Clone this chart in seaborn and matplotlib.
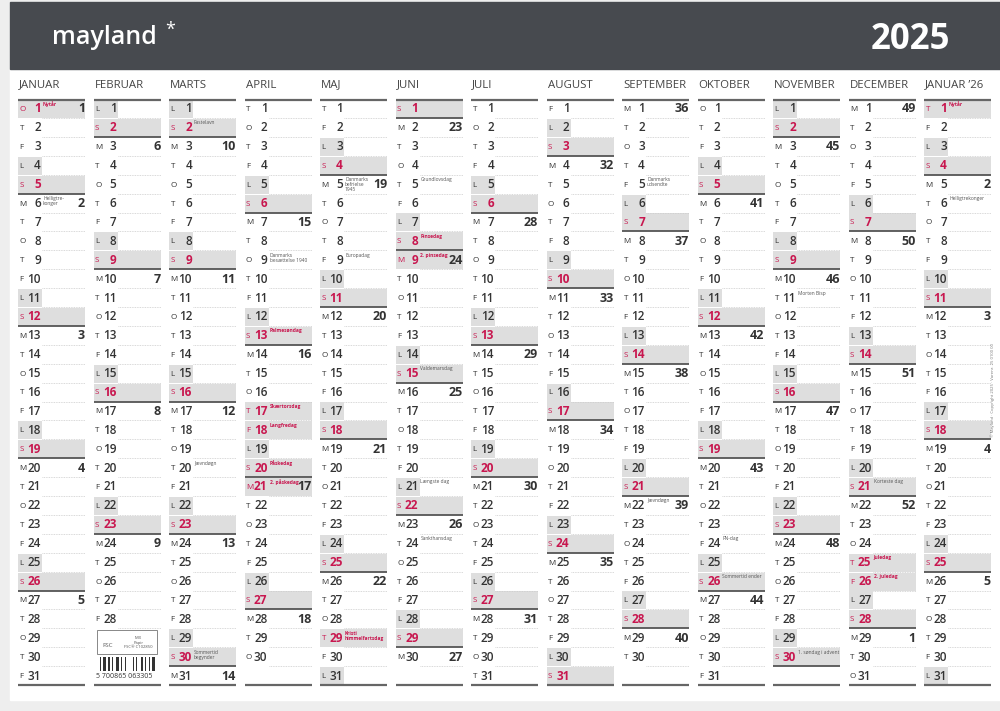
import datetime as dt
import matplotlib
matplotlib.use("Agg")
import matplotlib.pyplot as plt
import seaborn as sns
from matplotlib.patches import Rectangle

sns.set_style("white")
plt.rcParams['font.family'] = ['Open Sans', 'DejaVu Sans']

months = ["JANUAR", "FEBRUAR", "MARTS", "APRIL", "MAJ", "JUNI", "JULI", "AUGUST",
          "SEPTEMBER", "OKTOBER", "NOVEMBER", "DECEMBER", "JANUAR \u201926"]
month_year = [(2025, m) for m in range(1, 13)] + [(2026, 1)]
weekday_letters = ["M", "T", "O", "T", "F", "L", "S"]

# (month index, day, label, red holiday)
holidays = [
    (0, 1, "Nytår", True), (0, 6, "Helligtre-\nkonger", False),
    (2, 2, "Fastelavn", False), (2, 20, "Jævndøgn", False), (2, 30, "Sommertid\nbegynder", False),
    (3, 9, "Danmarks\nbesættelse 1940", False), (3, 13, "Palmesøndag", True),
    (3, 17, "Skærtorsdag", True), (3, 18, "Langfredag", True), (3, 20, "Påskedag", True),
    (3, 21, "2. påskedag", True),
    (4, 5, "Danmarks\nbefrielse\n1945", False), (4, 9, "Europadag", False),
    (4, 29, "Kristi\nhimmelfartsdag", True),
    (5, 5, "Grundlovsdag", False), (5, 8, "Pinsedag", True), (5, 9, "2. pinsedag", True),
    (5, 15, "Valdemarsdag", False), (5, 21, "Længste dag", False), (5, 24, "Sankthansdag", False),
    (8, 5, "Danmarks\nudsendte", False), (8, 22, "Jævndøgn", False),
    (9, 24, "FN-dag", False), (9, 26, "Sommertid ender", False),
    (10, 11, "Morten Bisp", False), (10, 30, "1. søndag i advent", False),
    (11, 21, "Korteste dag", False), (11, 25, "Juledag", True), (11, 26, "2. juledag", True),
    (12, 1, "Nytår", True), (12, 6, "Helligtrekonger", False),
]
hol = {(m, d): (t, r) for m, d, t, r in holidays}

RED = "#c8174f"
SHADE = "#dedede"
TXT = "#333333"

fig = plt.figure(figsize=(10, 7.11), dpi=100)
fig.patch.set_facecolor("#eeeeee")
ax = fig.add_axes([0, 0, 1, 1])
ax.set_xlim(0, 1000)
ax.set_ylim(711, 0)
ax.axis("off")

ax.add_patch(Rectangle((10, 2), 990, 698, color="white", zorder=0))
ax.add_patch(Rectangle((10, 2), 990, 67, color="#474a4f", zorder=1))
ax.text(52, 38, "mayland", color="white", fontsize=18, va="center", ha="left", fontweight="semibold")
ax.text(165, 30, "*", color="white", fontsize=13, va="center", ha="left")
ax.text(950, 40, "2025", color="white", fontsize=25, fontweight="bold", va="center", ha="right")

x0, dx, colw = 18, 75.5, 67
y1, dy = 109, 18.9

for mi, name in enumerate(months):
    x = x0 + mi * dx
    ax.text(x + 1, 85, name, fontsize=8.2, color="#444444", va="center", ha="left")
    ax.plot([x, x + colw], [99.5, 99.5], color="#666666", lw=1.6, solid_capstyle="butt")
    yr, mo = month_year[mi]
    for d in range(1, 32):
        try:
            date = dt.date(yr, mo, d)
        except ValueError:
            continue
        yc = y1 + (d - 1) * dy
        wd = date.weekday()
        h = hol.get((mi, d))
        red = wd == 6 or (h is not None and h[1])
        if red:
            ax.add_patch(Rectangle((x, yc - 9), colw, 18, color=SHADE, lw=0, zorder=1))
        elif wd == 5:
            ax.add_patch(Rectangle((x, yc - 9), 24, 18, color=SHADE, lw=0, zorder=1))
        c = RED if red else TXT
        ax.text(x + 1.5, yc + 0.5, weekday_letters[wd], fontsize=5.8, color=c, va="center", ha="left", zorder=3)
        ax.text(x + 23, yc, str(d), fontsize=8.5, color=c, va="center", ha="right",
                fontweight="bold" if red else "semibold", zorder=3)
        if wd == 0 or (yr == 2025 and mo == 1 and d == 1):
            ax.text(x + colw, yc, str(date.isocalendar()[1]), fontsize=9, fontweight="bold",
                    color=TXT, va="center", ha="right", zorder=3)
        if h is not None:
            ax.text(x + 25, yc - 7.5, h[0], fontsize=3.5, color=RED if h[1] else "#555555",
                    va="top", ha="left", fontweight="bold" if h[1] else "normal", linespacing=1.0, zorder=3)
        if wd == 6:
            ax.plot([x, x + colw], [yc + 9, yc + 9], color="#555555", lw=1.3, solid_capstyle="butt", zorder=2)
        else:
            ax.plot([x + 24, x + colw], [yc + 9, yc + 9], color="#cccccc", lw=0.6, ls=(0, (1, 1)), zorder=2)
    ybot = y1 + 30 * dy + 9
    ax.plot([x, x + colw], [ybot, ybot], color="#666666", lw=1.6, solid_capstyle="butt", zorder=2)

# FSC box and barcode in February column
fx = x0 + dx
ax.add_patch(Rectangle((fx + 3, 630), 60, 24, fill=False, ec="#888888", lw=0.7, zorder=3))
ax.text(fx + 14, 647, "FSC", fontsize=4.5, color="#555555", ha="center", zorder=3)
ax.text(fx + 45, 636, "MIX\nPapir\nFSC® C102850", fontsize=3, color="#555555", ha="center", va="top", zorder=3)
bars = [1, 2, 1, 1, 3, 1, 2, 1, 1, 2, 3, 1, 1, 2, 1, 3, 1, 1, 2, 1, 1, 3, 2, 1, 1, 2, 1, 1, 3, 1]
bx = fx + 3
for i, w in enumerate(bars):
    if i % 2 == 0:
        ax.add_patch(Rectangle((bx, 657), w * 0.9, 14, color="#333333", lw=0, zorder=3))
    bx += w * 0.9 + 0.6
ax.text(fx + 3, 677, "5 700865 063305", fontsize=5, color="#333333", ha="left", va="center", zorder=3)

ax.text(993, 390, "© Mayland · Copyright 2025 · Varenr. 25 0100 00", fontsize=3, color="#777777",
        rotation=90, ha="center", va="center")

fig.savefig("out.png", dpi=100, facecolor=fig.get_facecolor())
